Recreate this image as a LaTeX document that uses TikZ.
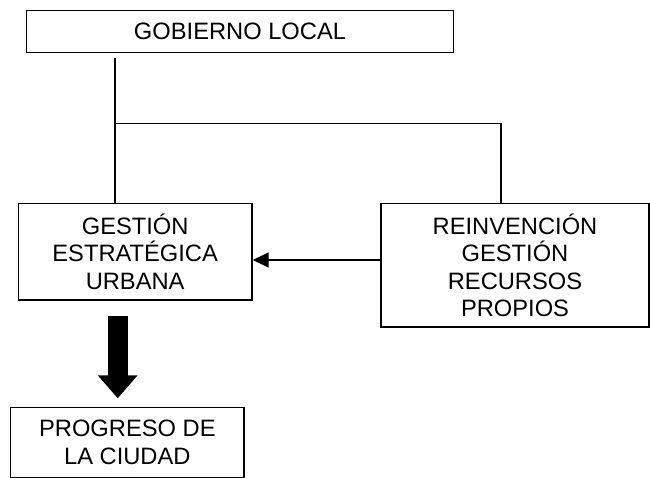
\documentclass[tikz,border=0pt]{standalone}
\usepackage{fontspec}
\setmainfont{Liberation Sans}
\usetikzlibrary{arrows.meta}
\tikzset{
  box/.style={draw=black, line width=1.4pt, inner sep=0pt, align=center,
    font=\fontsize{23.7}{27.5}\selectfont},
  conn/.style={draw=black, line width=1.3pt},
}
\begin{document}
\begin{tikzpicture}[x=1pt,y=-1pt]
\useasboundingbox (0,0) rectangle (650,478);
\node[box, minimum width=426.6pt, minimum height=42.4pt] (gob) at (240,31.5) {GOBIERNO LOCAL};
\node[box, minimum width=233.7pt, minimum height=96.7pt] (gest) at (135.15,251.65) {GESTIÓN\\ESTRATÉGICA\\URBANA};
\node[box, minimum width=268pt, minimum height=123.7pt] (rein) at (515,265.15) {REINVENCIÓN\\GESTIÓN\\RECURSOS\\PROPIOS};
\node[box, minimum width=233.3pt, minimum height=69.6pt] (prog) at (127.35,442.5) {PROGRESO DE\\LA CIUDAD};
\coordinate (t0) at (115,58);
\coordinate (j1) at (115,123.3);
\coordinate (j2) at (501,123.3);
\coordinate (ay) at (0,260);
\coordinate (ax) at (117.7,0);
\draw[conn] (t0) -- (gest.north -| t0);
\draw[conn] (j1) -- (j2) -- (rein.north -| j2);
\draw[conn, -{Triangle[length=16pt,width=15pt]}] (rein.west |- ay) -- (gest.east |- ay);
\draw[line width=20pt, -{Triangle[length=23pt,width=38.4pt]}, shorten <=15pt, shorten >=8.7pt]
  (gest.south -| ax) -- (prog.north -| ax);
\end{tikzpicture}
\end{document}
